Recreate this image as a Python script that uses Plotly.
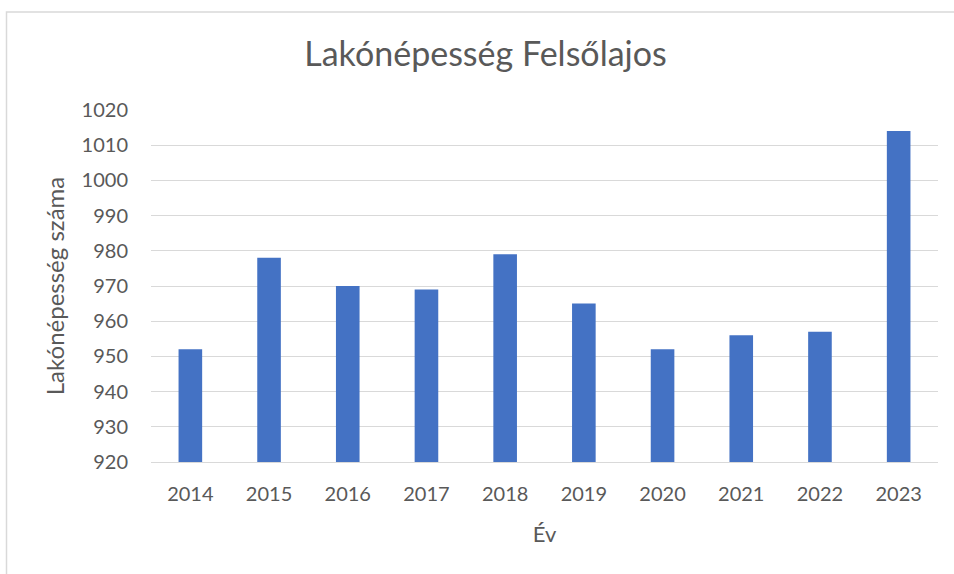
import plotly.graph_objects as go

years = ["2014", "2015", "2016", "2017", "2018", "2019", "2020", "2021", "2022", "2023"]
population = [952, 978, 970, 969, 979, 965, 952, 956, 957, 1014]

title_text = "Lakónépesség Felsőlajos"
x_title = "Év"
y_title = "Lakónépesség száma"

W, H = 954, 574
L, R, T, B = 151, 16, 110, 112
pw, ph = W - L - R, H - T - B

def px_to_paper_x(px):
    return (px - L) / pw

def px_to_paper_y(py):
    return (H - B - py) / ph

font = "Lato, Carlito, Calibri, sans-serif"
grey = "#595959"

fig = go.Figure(go.Bar(
    x=years, y=population,
    marker=dict(color="#4472C4", line=dict(width=0)),
    width=0.3,
))

fig.update_layout(
    width=W, height=H, autosize=False,
    margin=dict(l=L, r=R, t=T, b=B),
    paper_bgcolor="white", plot_bgcolor="white",
    font=dict(family=font, color=grey, size=20),
    title=dict(text=title_text, x=485.5 / W, xanchor="center", y=1 - 54 / H, yanchor="middle",
               font=dict(size=34, color=grey, family=font)),
    showlegend=False,
    shapes=[dict(type="rect", xref="paper", yref="paper",
                 x0=px_to_paper_x(6.5), x1=px_to_paper_x(W + 10),
                 y0=px_to_paper_y(H + 10), y1=px_to_paper_y(12),
                 line=dict(color="#d9d9d9", width=1.5), fillcolor="rgba(0,0,0,0)", layer="below")],
)

fig.update_yaxes(
    range=[920, 1020], dtick=10, tick0=920,
    showgrid=True, gridcolor="#d9d9d9", gridwidth=1,
    zeroline=False, showline=False, ticks="",
    ticklabelstandoff=22,
    tickfont=dict(size=20, color=grey),
    title=dict(text=y_title, font=dict(size=24, color=grey), standoff=10),
)
fig.update_xaxes(
    showgrid=False, showline=True, linecolor="#d9d9d9", linewidth=1,
    ticks="", ticklabelstandoff=14,
    tickfont=dict(size=20, color=grey),
    title=dict(text=x_title, font=dict(size=22, color=grey), standoff=22),
)

fig.write_html("out.html", config={"displayModeBar": False},
               post_script="document.body.style.margin='0';")
